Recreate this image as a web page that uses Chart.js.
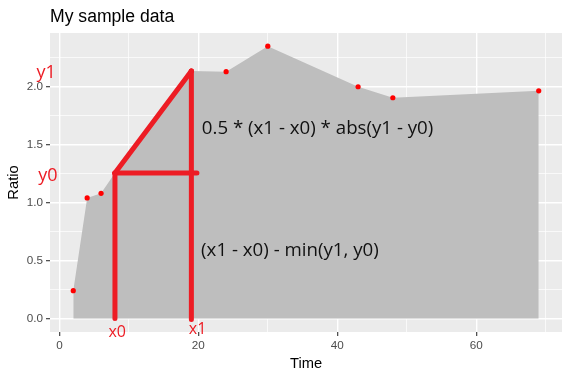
<!DOCTYPE html>
<html>
<head>
<meta charset="utf-8">
<script src="https://cdn.jsdelivr.net/npm/chart.js@4/dist/chart.umd.min.js"></script>
<style>
  html, body { margin: 0; padding: 0; background: #ffffff; }
  canvas { display: block; }
</style>
</head>
<body>
<canvas id="c" width="580" height="380"></canvas>
<script>
// ---- data ----
const timeValues  = [2, 4, 6, 8, 19, 24, 30, 43, 48, 69];
const ratioValues = [0.24, 1.04, 1.08, 1.255, 2.135, 2.13, 2.35, 2.0, 1.905, 1.965];
const xTickLabels = [0, 20, 40, 60];
const yTickLabels = [0.0, 0.5, 1.0, 1.5, 2.0];

// annotation anchor values (data units)
const x0 = 8, y0 = 1.255, x1 = 19, y1 = 2.135;
const titleText = 'My sample data';
const formula1 = '0.5 * (x1 - x0) * abs(y1 - y0)';
const formula2 = '(x1 - x0) - min(y1, y0)';

// ---- derived ----
const points = timeValues.map((t, i) => ({ x: t, y: ratioValues[i] }));
const RED = '#ED1C24';

const annotationLines = [
  [{ x: x0, y: y0 }, { x: x1, y: y1 }],
  [{ x: x1, y: y1 }, { x: x1, y: -0.01 }],
  [{ x: x0, y: y0 }, { x: x0, y: 0 }],
  [{ x: x0, y: y0 }, { x: x1 + 0.8, y: y0 }]
];

const textLabels = [
  { text: 'y1', x: -1.9, y: 2.075, color: RED, font: '18px "Open Sans"', align: 'center' },
  { text: 'y0', x: -1.65, y: 1.187, color: RED, font: '18px "Open Sans"', align: 'center' },
  { text: 'x0', x: 8.33, y: -0.157, color: RED, font: '16px "Open Sans"', align: 'center' },
  { text: 'x1', x: 19.9, y: -0.132, color: RED, font: '16px "Open Sans"', align: 'center' },
  { text: formula1, x: 20.5, y: 1.59, color: '#111111', font: '18.7px "Open Sans"', align: 'left' },
  { text: formula2, x: 20.4, y: 0.542, color: '#111111', font: '18.7px "Open Sans"', align: 'left' }
];

const panelPlugin = {
  id: 'panel',
  beforeDraw(chart) {
    const { ctx, chartArea: a } = chart;
    ctx.save();
    ctx.fillStyle = '#EBEBEB';
    ctx.fillRect(a.left, a.top, a.right - a.left, a.bottom - a.top);
    ctx.restore();
  },
  afterDraw(chart) {
    const { ctx, scales } = chart;
    ctx.save();
    ctx.fillStyle = '#000000';
    ctx.font = '17.6px "Liberation Sans", Arial, sans-serif';
    ctx.textAlign = 'left';
    ctx.textBaseline = 'alphabetic';
    ctx.fillText(titleText, chart.chartArea.left, 21.7);
    textLabels.forEach(l => {
      ctx.fillStyle = l.color;
      ctx.font = l.font;
      ctx.textAlign = l.align;
      ctx.textBaseline = 'alphabetic';
      ctx.fillText(l.text, scales.x.getPixelForValue(l.x), scales.y.getPixelForValue(l.y));
    });
    ctx.restore();
  }
};

const isMajor = (v, step) => Math.abs(v / step - Math.round(v / step)) < 1e-6;

const datasets = [
  {
    data: points,
    borderWidth: 0,
    borderColor: 'rgba(0,0,0,0)',
    backgroundColor: '#BEBEBE',
    fill: 'origin',
    pointRadius: 0,
    tension: 0,
    order: 5
  },
  {
    data: points,
    showLine: false,
    pointRadius: 2.6,
    pointBackgroundColor: '#FF0000',
    pointBorderWidth: 0,
    pointBorderColor: '#FF0000',
    fill: false,
    order: 4
  }
].concat(annotationLines.map(seg => ({
  data: seg,
  borderColor: RED,
  borderWidth: 5,
  borderCapStyle: 'round',
  pointRadius: 0,
  fill: false,
  tension: 0,
  order: 1
})));

new Chart(document.getElementById('c'), {
  type: 'line',
  data: { datasets },
  plugins: [panelPlugin],
  options: {
    responsive: false,
    animation: false,
    devicePixelRatio: 1,
    layout: { padding: { top: 33, right: 18, bottom: 0, left: 0 } },
    plugins: { legend: { display: false }, tooltip: { enabled: false } },
    scales: {
      x: {
        type: 'linear',
        min: -1.35,
        max: 72.35,
        afterFit(s) { s.height = 48; },
        border: { display: false },
        grid: {
          color: '#FFFFFF',
          lineWidth: c => isMajor(c.tick.value, 20) ? 1.4 : 0.7,
          tickLength: 4,
          tickColor: c => xTickLabels.includes(c.tick.value) ? '#333333' : 'rgba(0,0,0,0)',
          tickWidth: 1.1
        },
        ticks: {
          stepSize: 10,
          includeBounds: false,
          autoSkip: false,
          maxRotation: 0,
          padding: 3,
          color: '#4D4D4D',
          font: { family: '"Liberation Sans", Arial, sans-serif', size: 11.7 },
          callback: v => xTickLabels.includes(v) ? String(v) : ''
        },
        title: {
          display: true,
          text: 'Time',
          color: '#000000',
          font: { family: '"Liberation Sans", Arial, sans-serif', size: 14.7 },
          padding: { top: 0, bottom: 7 }
        }
      },
      y: {
        type: 'linear',
        min: -0.117,
        max: 2.464,
        afterFit(s) { s.width = 50; },
        border: { display: false },
        grid: {
          color: '#FFFFFF',
          lineWidth: c => isMajor(c.tick.value, 0.5) ? 1.4 : 0.7,
          tickLength: 4,
          tickColor: c => isMajor(c.tick.value, 0.5) ? '#333333' : 'rgba(0,0,0,0)',
          tickWidth: 1.1
        },
        ticks: {
          stepSize: 0.25,
          includeBounds: false,
          autoSkip: false,
          padding: 3,
          color: '#4D4D4D',
          font: { family: '"Liberation Sans", Arial, sans-serif', size: 11.7 },
          callback: v => yTickLabels.some(t => Math.abs(t - v) < 1e-6) ? v.toFixed(1) : ''
        },
        title: {
          display: true,
          text: 'Ratio',
          color: '#000000',
          font: { family: '"Liberation Sans", Arial, sans-serif', size: 14.7 },
          padding: { top: 5, bottom: 0 }
        }
      }
    }
  }
});
</script>
</body>
</html>
